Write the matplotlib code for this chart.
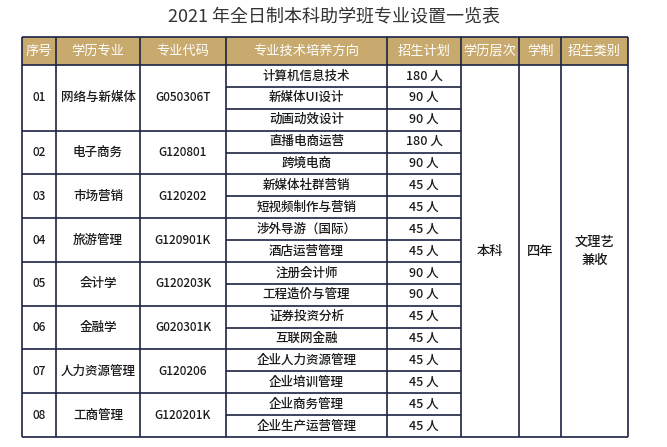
import matplotlib
matplotlib.use("Agg")
import matplotlib.pyplot as plt
from matplotlib.patches import Rectangle

FONT = ["Noto Sans CJK SC", "Noto Sans CJK JP", "DejaVu Sans"]
plt.rcParams["font.family"] = "sans-serif"
plt.rcParams["font.sans-serif"] = FONT

title = "2021 年全日制本科助学班专业设置一览表"
headers = ["序号", "学历专业", "专业代码", "专业技术培养方向", "招生计划", "学历层次", "学制", "招生类别"]
nums = ["01", "02", "03", "04", "05", "06", "07", "08"]
majors = ["网络与新媒体", "电子商务", "市场营销", "旅游管理", "会计学", "金融学", "人力资源管理", "工商管理"]
codes = ["G050306T", "G120801", "G120202", "G120901K", "G120203K", "G020301K", "G120206", "G120201K"]
group_sizes = [3, 2, 2, 2, 2, 2, 2, 2]
directions = ["计算机信息技术", "新媒体UI设计", "动画动效设计", "直播电商运营", "跨境电商",
              "新媒体社群营销", "短视频制作与营销", "涉外导游（国际）", "酒店运营管理",
              "注册会计师", "工程造价与管理", "证券投资分析", "互联网金融",
              "企业人力资源管理", "企业培训管理", "企业商务管理", "企业生产运营管理"]
plans = [180, 90, 90, 180, 90, 45, 45, 45, 45, 90, 90, 45, 45, 45, 45, 45, 45]
level = "本科"
duration = "四年"
category = "文理艺\n兼收"

W, H = 667, 447
fig = plt.figure(figsize=(W / 100, H / 100), dpi=100)
ax = fig.add_axes([0, 0, 1, 1])
ax.set_xlim(0, W)
ax.set_ylim(H, 0)
ax.axis("off")

cols = [22, 56, 140, 226, 387, 461, 519, 561, 628]
top, hb, bottom = 37, 65, 437
n = len(directions)
rh = (bottom - hb) / n
hdr = "#C8A96E"
line = "#1C2444"
txt = "#1a1a1a"

def T(x, y, s, size=9, color=txt, weight="medium", **kw):
    ax.text(x, y, s, ha="center", va="center", fontsize=size, color=color,
            fontfamily=FONT, fontweight=weight, **kw)

T(W / 2, 16, title, size=13, color="#333333", weight="normal")
ax.add_patch(Rectangle((cols[0], top), cols[-1] - cols[0], hb - top, facecolor=hdr, edgecolor="none"))
for i, h in enumerate(headers):
    T((cols[i] + cols[i + 1]) / 2, (top + hb) / 2, h, size=9.5, color="white", weight="normal")

lw = 1.2
def hline(x0, x1, y):
    ax.plot([x0, x1], [y, y], color=line, lw=lw, solid_capstyle="butt")
def vline(x, y0, y1):
    ax.plot([x, x], [y0, y1], color=line, lw=lw, solid_capstyle="butt")

hline(cols[0], cols[-1], top)
hline(cols[0], cols[-1], hb)
hline(cols[0], cols[-1], bottom)
for x in cols:
    vline(x, top, bottom)

r = 0
for g, size in enumerate(group_sizes):
    y0 = hb + r * rh
    y1 = hb + (r + size) * rh
    cy = (y0 + y1) / 2
    T((cols[0] + cols[1]) / 2, cy, nums[g], size=8.5)
    T((cols[1] + cols[2]) / 2, cy, majors[g], size=9)
    T((cols[2] + cols[3]) / 2, cy, codes[g], size=8.5)
    if g > 0:
        hline(cols[0], cols[5], y0)
    for k in range(size):
        ry = hb + (r + k) * rh
        if k > 0:
            hline(cols[3], cols[5], ry)
        T((cols[3] + cols[4]) / 2, ry + rh / 2, directions[r + k], size=9)
        T((cols[4] + cols[5]) / 2, ry + rh / 2, f"{plans[r + k]} 人", size=9)
    r += size

mid = (hb + bottom) / 2
T((cols[5] + cols[6]) / 2, mid, level, size=9.5)
T((cols[6] + cols[7]) / 2, mid, duration, size=9.5)
T((cols[7] + cols[8]) / 2, mid, category, size=9.5, linespacing=1.4)

fig.savefig("out.png", dpi=100, facecolor="white")
